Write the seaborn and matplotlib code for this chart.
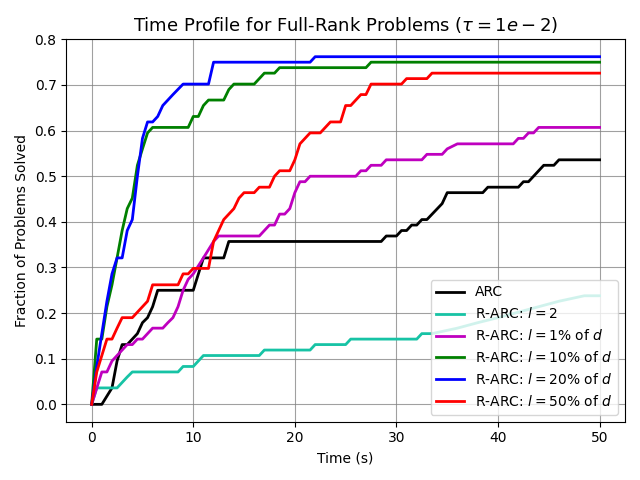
import numpy as np
import pandas as pd
import seaborn as sns
import matplotlib
matplotlib.use("Agg")
import matplotlib.pyplot as plt

# time profile data: time (s) and fraction of problems solved
labels = [
    "ARC",
    r"R-ARC: $l = 2$",
    r"R-ARC: $l = 1\%$ of $d$",
    r"R-ARC: $l = 10\%$ of $d$",
    r"R-ARC: $l = 20\%$ of $d$",
    r"R-ARC: $l = 50\%$ of $d$",
]
colors = ["black", "#17c3a5", "m", "g", "b", "r"]

arc_t = [0, 1, 2, 2.5, 3, 3.5, 4, 4.5, 5, 5.5, 6, 6.5, 10, 11, 13, 13.5, 28.5, 29, 30,
         30.5, 31, 31.5, 32, 32.5, 33, 34.5, 35, 38.5, 39, 42, 42.5, 43, 44.5, 45.5, 46, 50]
arc_y = [0, 0, 0.036, 0.095, 0.131, 0.131, 0.143, 0.155, 0.179, 0.190, 0.214, 0.250, 0.250,
         0.321, 0.321, 0.357, 0.357, 0.369, 0.369, 0.381, 0.381, 0.393, 0.393, 0.405, 0.405,
         0.440, 0.464, 0.464, 0.476, 0.476, 0.488, 0.488, 0.524, 0.524, 0.536, 0.536]

l2_t = [0, 0.5, 2.5, 3, 3.5, 4, 8.5, 9, 10, 11, 16.5, 17, 21.5, 22, 25, 25.5, 32, 32.5, 33.5,
        36, 38, 40, 42, 44, 46, 48.5, 50]
l2_y = [0, 0.036, 0.036, 0.048, 0.060, 0.071, 0.071, 0.083, 0.083, 0.107, 0.107, 0.119, 0.119,
        0.131, 0.131, 0.143, 0.143, 0.155, 0.155, 0.167, 0.179, 0.190, 0.202, 0.214, 0.226,
        0.238, 0.238]

l1_t = [0, 1, 1.5, 2, 2.5, 3, 3.5, 4, 4.5, 5, 5.5, 6, 7, 7.5, 8, 8.5, 9, 9.5, 10, 11, 12, 12.5,
        16.5, 17, 17.5, 18, 18.5, 19, 19.5, 20, 20.5, 21, 21.5, 26, 26.5, 27, 27.5, 28.5, 29,
        32.5, 33, 34.5, 35, 36, 41.5, 42, 42.5, 43, 43.5, 44, 50]
l1_y = [0, 0.071, 0.071, 0.095, 0.107, 0.119, 0.131, 0.131, 0.143, 0.143, 0.155, 0.167, 0.167,
        0.179, 0.190, 0.214, 0.250, 0.274, 0.286, 0.321, 0.357, 0.369, 0.369, 0.381, 0.393,
        0.393, 0.417, 0.417, 0.429, 0.464, 0.488, 0.488, 0.500, 0.500, 0.512, 0.512, 0.524,
        0.524, 0.536, 0.536, 0.548, 0.548, 0.560, 0.571, 0.571, 0.583, 0.583, 0.595, 0.595,
        0.607, 0.607]

l10_t = [0, 0.5, 1, 1.5, 2, 2.5, 3, 3.5, 4, 4.5, 5, 5.5, 6, 9.5, 10, 10.5, 11, 11.5, 13, 13.5,
         14, 16, 16.5, 17, 18, 18.5, 27, 27.5, 50]
l10_y = [0, 0.143, 0.143, 0.214, 0.262, 0.321, 0.381, 0.429, 0.452, 0.524, 0.560, 0.595, 0.607,
         0.607, 0.631, 0.631, 0.655, 0.667, 0.667, 0.690, 0.702, 0.702, 0.714, 0.726, 0.726,
         0.738, 0.738, 0.750, 0.750]

l20_t = [0, 0.5, 1, 1.5, 2, 2.5, 3, 3.5, 4, 4.5, 5, 5.5, 6, 6.5, 7, 7.5, 8, 9, 11.5, 12, 21.5,
         22, 50]
l20_y = [0, 0.083, 0.155, 0.226, 0.286, 0.321, 0.321, 0.381, 0.405, 0.500, 0.583, 0.619, 0.619,
         0.631, 0.655, 0.667, 0.679, 0.702, 0.702, 0.750, 0.750, 0.762, 0.762]

l50_t = [0, 0.5, 1, 1.5, 2, 2.5, 3, 4, 4.5, 5, 5.5, 6, 8.5, 9, 9.5, 10, 11.5, 12, 12.5, 13, 13.5,
         14, 14.5, 15, 16, 16.5, 17.5, 18, 18.5, 19.5, 20, 20.5, 21, 21.5, 22.5, 23.5, 24.5, 25,
         25.5, 26.5, 27, 27.5, 30.5, 31, 33, 33.5, 50]
l50_y = [0, 0.071, 0.107, 0.143, 0.143, 0.167, 0.190, 0.190, 0.202, 0.214, 0.226, 0.262, 0.262,
         0.286, 0.286, 0.298, 0.298, 0.357, 0.381, 0.405, 0.417, 0.429, 0.452, 0.464, 0.464,
         0.476, 0.476, 0.500, 0.512, 0.512, 0.536, 0.571, 0.583, 0.595, 0.595, 0.619, 0.619,
         0.655, 0.655, 0.679, 0.679, 0.702, 0.702, 0.714, 0.714, 0.726, 0.726]

series = [(arc_t, arc_y), (l2_t, l2_y), (l1_t, l1_y), (l10_t, l10_y), (l20_t, l20_y), (l50_t, l50_y)]

frames = []
for name, (t, y) in zip(labels, series):
    frames.append(pd.DataFrame({"time": t, "frac": y, "solver": name}))
df = pd.concat(frames, ignore_index=True)

fig, ax = plt.subplots(figsize=(6.4, 4.8), dpi=100)
sns.lineplot(data=df, x="time", y="frac", hue="solver", hue_order=labels,
             palette=dict(zip(labels, colors)), estimator=None, sort=False,
             linewidth=2, ax=ax)

ax.grid(True, color="gray", alpha=0.75, linewidth=0.8)
ax.set_xlabel("Time (s)")
ax.set_ylabel("Fraction of Problems Solved")
ax.set_title(r"Time Profile for Full-Rank Problems ($\tau = 1e-2$)", fontsize=13)
sns.move_legend(ax, "lower right", title=None)

plt.tight_layout()
plt.savefig("out.png")
